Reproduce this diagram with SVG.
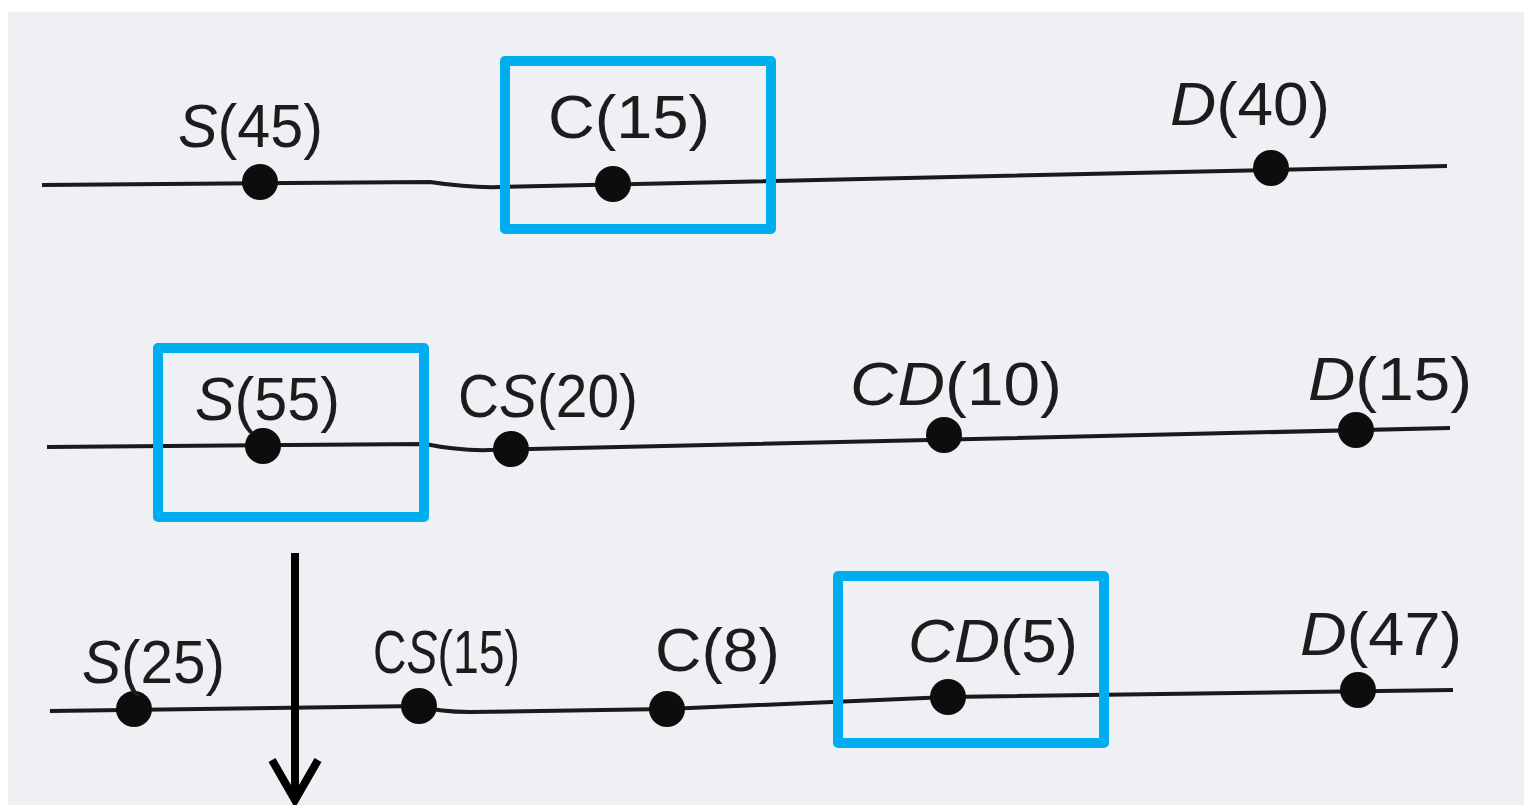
<svg xmlns="http://www.w3.org/2000/svg" width="1524" height="805" viewBox="0 0 1524 805">
<style>
.bg{fill:#eef0f4}
.ln{fill:none;stroke:#1a1a1a;stroke-width:4;stroke-linejoin:round}
.dot{fill:#0d0d0d}
.lbl{font-family:"Liberation Sans","DejaVu Sans",sans-serif;font-size:62px;fill:#1c1c1c}
.it{font-style:italic}
.box{fill:none;stroke:#00aeef;stroke-width:10;stroke-linejoin:round}
.arr{fill:none;stroke:#000;stroke-width:8;stroke-linecap:butt}
</style>
<rect class="bg" x="0" y="0" width="1524" height="805"/>
<rect x="0" y="0" width="1524" height="12" fill="#ffffff"/>
<rect x="0" y="0" width="8" height="805" fill="#ffffff"/>
<g id="connectors">
<path class="ln" d="M42,185 L430,182 Q470,188 500,187 L1447,166"/>
<path class="ln" d="M47,447 L425,444 Q460,451 490,450 L1450,428"/>
<path class="ln" d="M50,711 L419,706 Q440,712 470,712 L667,709 L948,697 L1453,690"/>
<path class="arr" d="M295,553 L295,800"/>
<path class="arr" d="M272,760 L295,800 L318,760"/>
</g>
<g id="r1-S"><circle class="dot" cx="260" cy="182" r="18"/><text class="lbl" x="178" y="147" textLength="145" lengthAdjust="spacingAndGlyphs"><tspan class="it">S</tspan>(45)</text></g>
<g id="r1-C"><circle class="dot" cx="613" cy="184" r="18"/><text class="lbl" x="548" y="138" textLength="162" lengthAdjust="spacingAndGlyphs">C(15)</text></g>
<g id="r1-D"><circle class="dot" cx="1271" cy="168" r="18"/><text class="lbl" x="1170" y="125" textLength="160" lengthAdjust="spacingAndGlyphs"><tspan class="it">D</tspan>(40)</text></g>
<g id="box1"><rect class="box" x="505" y="61" width="266" height="168"/></g>

<g id="r2-S"><circle class="dot" cx="263" cy="446" r="18"/><text class="lbl" x="195" y="420" textLength="145" lengthAdjust="spacingAndGlyphs"><tspan class="it">S</tspan>(55)</text></g>
<g id="r2-CS"><circle class="dot" cx="511" cy="449" r="18"/><text class="lbl" x="458" y="417" textLength="180" lengthAdjust="spacingAndGlyphs">C<tspan class="it">S</tspan>(20)</text></g>
<g id="r2-CD"><circle class="dot" cx="944" cy="435" r="18"/><text class="lbl" x="850" y="405" textLength="212" lengthAdjust="spacingAndGlyphs"><tspan class="it">CD</tspan>(10)</text></g>
<g id="r2-D"><circle class="dot" cx="1356" cy="430" r="18"/><text class="lbl" x="1308" y="400" textLength="164" lengthAdjust="spacingAndGlyphs"><tspan class="it">D</tspan>(15)</text></g>
<g id="box2"><rect class="box" x="158" y="348" width="266" height="169"/></g>

<g id="r3-S"><circle class="dot" cx="134" cy="709" r="18"/><text class="lbl" x="82" y="683" textLength="143" lengthAdjust="spacingAndGlyphs"><tspan class="it">S</tspan>(25)</text></g>
<g id="r3-CS"><circle class="dot" cx="419" cy="706" r="18"/><text class="lbl" x="373" y="673" textLength="147" lengthAdjust="spacingAndGlyphs">C<tspan class="it">S</tspan>(15)</text></g>
<g id="r3-C"><circle class="dot" cx="667" cy="709" r="18"/><text class="lbl" x="655" y="671" textLength="125" lengthAdjust="spacingAndGlyphs">C(8)</text></g>
<g id="r3-CD"><circle class="dot" cx="948" cy="697" r="18"/><text class="lbl" x="908" y="662" textLength="170" lengthAdjust="spacingAndGlyphs"><tspan class="it">CD</tspan>(5)</text></g>
<g id="r3-D"><circle class="dot" cx="1358" cy="690" r="18"/><text class="lbl" x="1300" y="655" textLength="162" lengthAdjust="spacingAndGlyphs"><tspan class="it">D</tspan>(47)</text></g>
<g id="box3"><rect class="box" x="838" y="576" width="266" height="167"/></g>
</svg>
